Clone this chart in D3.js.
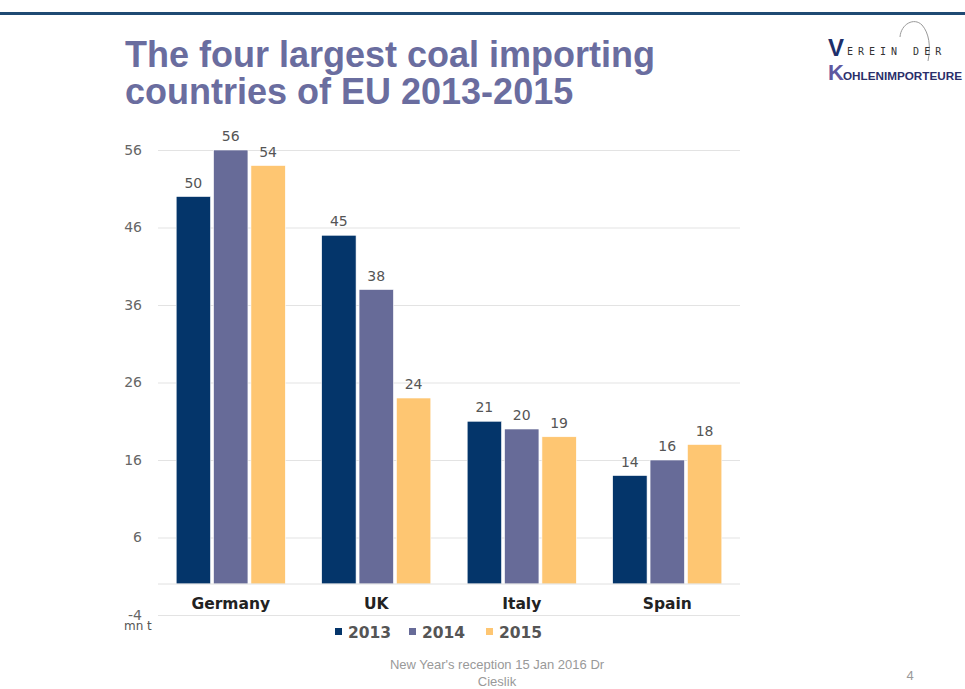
<!DOCTYPE html>
<html><head><meta charset="utf-8">
<script src="https://cdn.jsdelivr.net/npm/d3@7"></script>
<style>body{margin:0;background:#fff}svg{display:block}</style>
</head><body>
<svg id="c" width="965" height="689"></svg>
<script>
const categories = ["Germany", "UK", "Italy", "Spain"];
const seriesNames = ["2013", "2014", "2015"];
const values2013 = [50, 45, 21, 14];
const values2014 = [56, 38, 20, 16];
const values2015 = [54, 24, 19, 18];
const yTicks = [-4, 6, 16, 26, 36, 46, 56];
const colors = ["#04356a", "#676b98", "#fec672"];

const series = [values2013, values2014, values2015];
const svg = d3.select("#c");

// top rule
svg.append("rect").attr("x", 0).attr("y", 12).attr("width", 965).attr("height", 3).attr("fill", "#1f4a73");

// title
const title = svg.append("text").attr("font-family", "Liberation Sans, Arial, sans-serif")
  .attr("font-weight", "bold").attr("font-size", 36).attr("fill", "#6a6d9f");
title.append("tspan").attr("x", 125).attr("y", 67).text("The four largest coal importing");
title.append("tspan").attr("x", 125).attr("y", 104).text("countries of EU 2013-2015");

// logo
const logo = svg.append("g");
logo.append("path").attr("d", "M900,37 C901,24 914,17 922,25 C929,33 931,46 928,61")
  .attr("fill", "none").attr("stroke", "#999").attr("stroke-width", 1);
logo.append("text").attr("x", 828).attr("y", 56).attr("font-family", "Liberation Sans, Arial, sans-serif")
  .attr("font-weight", "bold").attr("font-size", 24).attr("fill", "#1d2f6b").text("V");
logo.append("text").attr("x", 847).attr("y", 55).attr("font-family", "DejaVu Sans Mono, monospace")
  .attr("font-size", 10).attr("letter-spacing", 5).attr("fill", "#333").text("EREIN DER");
logo.append("text").attr("x", 828).attr("y", 80).attr("font-family", "Liberation Sans, Arial, sans-serif")
  .attr("font-weight", "bold").attr("font-size", 22).attr("fill", "#5f589f").text("K");
logo.append("text").attr("x", 843).attr("y", 80).attr("font-family", "Liberation Sans Narrow, Liberation Sans, sans-serif")
  .attr("font-weight", "bold").attr("font-size", 11).attr("fill", "#2a2f6a")
  .attr("textLength", 119).attr("lengthAdjust", "spacingAndGlyphs").text("OHLENIMPORTEURE");

// chart
const plot = {left: 158, right: 740};
const y = d3.scaleLinear().domain([-4, 56]).range([615, 150]);
const x0 = d3.scaleBand().domain(categories).range([plot.left, plot.right]).paddingInner(0.25).paddingOuter(0.125);
const x1 = d3.scaleBand().domain(seriesNames).range([0, x0.bandwidth()]).paddingInner(0.08);

// grid
const yAxis = d3.axisLeft(y).tickValues(yTicks).tickFormat(d => String(d))
  .tickSize(-(plot.right - plot.left)).tickPadding(16);
const ga = svg.append("g").attr("transform", `translate(${plot.left},0)`).call(yAxis);
ga.select(".domain").remove();
ga.selectAll(".tick line").attr("stroke", "#e3e3e3").attr("stroke-width", 1);
ga.selectAll(".tick text").attr("font-family", "DejaVu Sans, Verdana, sans-serif").attr("font-size", 14).attr("fill", "#666");

// bars
const groups = svg.append("g").selectAll("g").data(categories).join("g")
  .attr("transform", d => `translate(${x0(d)},0)`);
groups.each(function(cat, ci) {
  const g = d3.select(this);
  seriesNames.forEach((s, si) => {
    const v = series[si][ci];
    g.append("rect").attr("x", x1(s)).attr("y", y(v)).attr("width", x1.bandwidth())
      .attr("height", y(0) - y(v)).attr("fill", colors[si]).attr("stroke", "#fff").attr("stroke-width", 0.6);
    g.append("text").attr("x", x1(s) + x1.bandwidth() / 2).attr("y", y(v) - 9)
      .attr("text-anchor", "middle").attr("font-family", "DejaVu Sans, Verdana, sans-serif")
      .attr("font-size", 14).attr("fill", "#555").text(v);
  });
});

// zero axis line
svg.append("line").attr("x1", plot.left).attr("x2", plot.right).attr("y1", y(0)).attr("y2", y(0))
  .attr("stroke", "#e0e0e0");

// category labels
const xAxis = d3.axisBottom(x0).tickSize(0).tickPadding(14);
const gx = svg.append("g").attr("transform", `translate(0,${y(0)})`).call(xAxis);
gx.select(".domain").remove();
gx.selectAll("text").attr("font-family", "DejaVu Sans, Verdana, sans-serif").attr("font-weight", "bold")
  .attr("font-size", 15.5).attr("fill", "#222");

// unit
svg.append("text").attr("x", 124).attr("y", 630).attr("font-family", "DejaVu Sans, Verdana, sans-serif")
  .attr("font-size", 12).attr("fill", "#555").text("mn t");

// legend
const legX = [335, 409, 486];
const leg = svg.append("g");
seriesNames.forEach((s, i) => {
  leg.append("rect").attr("x", legX[i]).attr("y", 628).attr("width", 7).attr("height", 7).attr("fill", colors[i]);
  leg.append("text").attr("x", legX[i] + 13).attr("y", 638).attr("font-family", "DejaVu Sans, Verdana, sans-serif")
    .attr("font-weight", "bold").attr("font-size", 15.5).attr("fill", "#555").text(s);
});

// footer
const foot = svg.append("text").attr("font-family", "Liberation Sans, Arial, sans-serif").attr("font-size", 13)
  .attr("fill", "#999").attr("text-anchor", "middle");
foot.append("tspan").attr("x", 497).attr("y", 669).text("New Year's reception 15 Jan 2016 Dr");
foot.append("tspan").attr("x", 497).attr("y", 686).text("Cieslik");
svg.append("text").attr("x", 910).attr("y", 680).attr("text-anchor", "middle")
  .attr("font-family", "Liberation Sans, Arial, sans-serif").attr("font-size", 13).attr("fill", "#999").text("4");
</script>
</body></html>
